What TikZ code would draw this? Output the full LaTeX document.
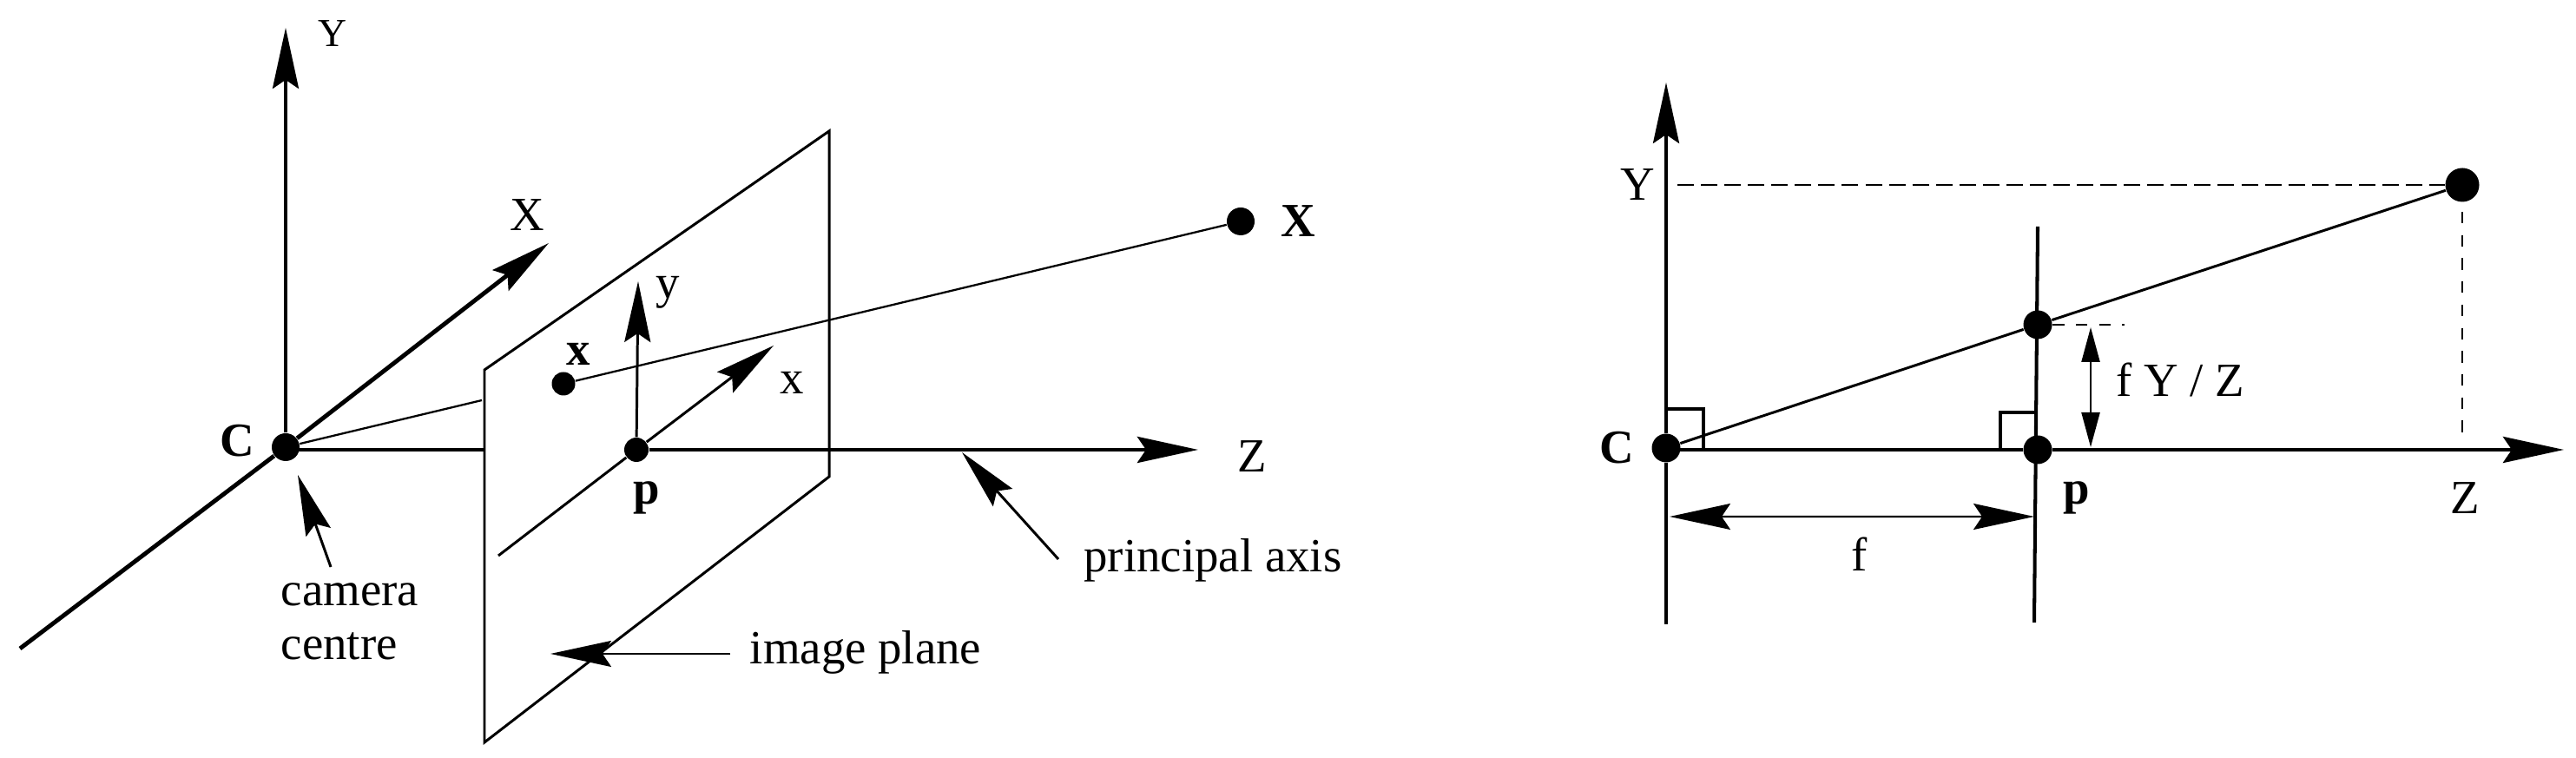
\documentclass[tikz,border=0pt]{standalone}
\usepackage{fontspec}
\setmainfont{Liberation Serif}
\usetikzlibrary{positioning}
\usetikzlibrary{arrows.meta}

\tikzset{
	dot/.style={circle, fill=black, inner sep=0pt, minimum size=3.3mm},
	lbl/.style={inner sep=0pt, font=\fontsize{15.6}{17.6}\selectfont},
	lblsmall/.style={inner sep=0pt, font=\fontsize{13}{15}\selectfont},
	axis/.style={line width=1.4pt},
	upright/.style={line width=1.15pt},
	plane/.style={line width=0.85pt},
	ray/.style={line width=0.65pt},
	head/.style={-{Stealth[length=7mm, width=3mm, inset=1mm]}},
	dimhead/.style={{Stealth[length=4mm, width=2.1mm, inset=0mm]}-{Stealth[length=4mm, width=2.1mm, inset=0mm]}},
	bothhead/.style={{Stealth[length=7mm, width=3mm, inset=1mm]}-{Stealth[length=7mm, width=3mm, inset=1mm]}},
	longdash/.style={line width=0.6pt, dash pattern=on 5.4pt off 2.3pt},
	evendash/.style={line width=0.6pt, dash pattern=on 3.8pt off 3.8pt}
}

\begin{document}
\begin{tikzpicture}[on grid]
	\useasboundingbox (0,0) rectangle (29.67,8.73);

	% Nodes
	% Camera model in 3D
	\node[dot, minimum size=3.2mm] (c-l) at (3.29,3.58) {};
	\node[dot, minimum size=2.8mm, below=0.03 of c-l, xshift=4.04cm] (p-l) {};
	\node[dot, minimum size=2.7mm, above=0.73 of c-l, xshift=3.20cm] (x-l) {};
	\node[dot, minimum size=3.2mm, above=2.60 of c-l, xshift=11cm] (w-l) {};

	% Image plane corners
	\coordinate[above=0.89 of c-l, xshift=2.29cm] (plane-a);
	\coordinate[above=3.64 of c-l, xshift=6.26cm] (plane-b);
	\coordinate[below=0.34 of c-l, xshift=6.26cm] (plane-c);
	\coordinate[below=3.40 of c-l, xshift=2.29cm] (plane-d);

	% Free ends of the axes
	\coordinate[above=4.83 of c-l] (Y-tip);
	\coordinate[above=2.35 of c-l, xshift=3.03cm] (X-tip);
	\coordinate[below=2.32 of c-l, xshift=-3.06cm] (X-end);
	\coordinate[below=0.03 of c-l, xshift=2.29cm] (Z-stop);
	\coordinate[above=0.54 of c-l, xshift=2.26cm] (ray-stop);
	\coordinate[above=1.94 of p-l, xshift=0.02cm] (y-tip);
	\coordinate[above=1.20 of p-l, xshift=1.58cm] (x-tip);
	\coordinate[below=1.22 of p-l, xshift=-1.59cm] (x-end);
	\coordinate[right=6.47 of p-l] (Z-tip);

	% Labels
	\node[lblsmall, above=4.76 of c-l, xshift=0.54cm] (Y-lab) {Y};
	\node[lbl, above=2.67 of c-l, xshift=2.78cm] (X-lab) {X};
	\node[lbl, left=0.56 of c-l, yshift=0.07cm] (c-lab) {\textbf{C}};
	\node[lbl, above=0.34 of x-l, xshift=0.17cm] (x-lab) {\textbf{x}};
	\node[lbl, right=0.66 of w-l] (w-lab) {\textbf{X}};
	\node[lbl, above=1.81 of p-l, xshift=0.36cm] (y-lab) {y};
	\node[lbl, above=0.77 of p-l, xshift=1.79cm] (xx-lab) {x};
	\node[lbl, below=0.55 of p-l, xshift=0.12cm] (p-lab) {\textbf{p}};
	\node[lbl, below=0.08 of p-l, xshift=7.09cm] (Z-lab) {Z};

	% Pointers with their texts
	\node[lbl, below=2.01 of c-l, xshift=0.74cm, align=left] (cam-lab) {camera\\centre};
	\coordinate[below=0.32 of c-l, xshift=0.14cm] (cam-tip);
	\coordinate[below=1.38 of c-l, xshift=0.52cm] (cam-tail);
	\node[lbl, below=1.27 of p-l, xshift=6.64cm] (pa-lab) {principal axis};
	\coordinate[below=0.03 of p-l, xshift=3.75cm] (pa-tip);
	\coordinate[below=1.26 of p-l, xshift=4.86cm] (pa-tail);
	\node[lbl, below=2.33 of p-l, xshift=2.64cm] (ip-lab) {image plane};
	\coordinate[above=1.02 of plane-d, xshift=0.76cm] (ip-tip);
	\coordinate[above=1.02 of plane-d, xshift=2.83cm] (ip-tail);

	% Camera model side view
	\node[dot] (c-r) at (19.19,3.57) {};
	\node[dot, below=0.02 of c-r, xshift=4.28cm] (p-r) {};
	\node[dot, above=1.44 of p-r] (x-r) {};
	\node[dot, minimum size=3.9mm, above=3.03 of c-r, xshift=9.17cm] (w-r) {};

	\coordinate[above=4.21 of c-r] (Y-tip-r);
	\coordinate[below=2.03 of c-r] (Y-end-r);
	\coordinate[below=0.02 of c-r, xshift=10.34cm] (Z-tip-r);
	\coordinate[above=2.57 of p-r] (img-top);
	\coordinate[below=1.99 of p-r, xshift=-0.04cm] (img-end);
	\coordinate[above=3.03 of c-r, xshift=0.13cm] (Y-dash);
	\coordinate[above=2.72 of c-r, xshift=9.17cm] (Z-dash-a);
	\coordinate[above=0.12 of c-r, xshift=9.17cm] (Z-dash-b);
	\coordinate[above=1.44 of p-r, xshift=1.00cm] (x-dash);
	\coordinate[above=1.41 of p-r, xshift=0.61cm] (fy-top);
	\coordinate[above=0.03 of p-r, xshift=0.61cm] (fy-end);
	\coordinate[below=0.79 of c-r, xshift=0.04cm] (f-left);
	\coordinate[below=0.77 of p-r, xshift=-0.04cm] (f-right);

	% Right angle marks
	\coordinate[above=0.45 of c-r] (ra-a);
	\coordinate[above=0.45 of c-r, xshift=0.43cm] (ra-b);
	\coordinate[below=0.02 of c-r, xshift=0.43cm] (ra-c);
	\coordinate[left=0.43 of p-r] (rb-a);
	\coordinate[above=0.43 of p-r, xshift=-0.43cm] (rb-b);
	\coordinate[above=0.43 of p-r] (rb-c);

	\node[lbl, left=0.57 of c-r] (c-lab-r) {\textbf{C}};
	\node[lbl, above=3.03 of c-r, xshift=-0.33cm] (Y-lab-r) {Y};
	\node[lbl, below=0.55 of p-r, xshift=0.45cm] (p-lab-r) {\textbf{p}};
	\node[lbl, below=0.58 of c-r, xshift=9.20cm] (Z-lab-r) {Z};
	\node[lbl, below=1.22 of c-r, xshift=2.23cm] (f-lab) {f};
	\node[lbl, above=0.81 of p-r, xshift=1.64cm] (fy-lab) {f Y / Z};

	% Edges
	% Axes through the camera centre
	\draw[upright, head] (c-l) -- (Y-tip);
	\draw[axis, head] (X-end) -- (c-l) -- (X-tip);
	\draw[axis] (c-l |- Z-stop) -- (Z-stop);
	\draw[axis, head] (p-l) -- (Z-tip);
	% Image plane and the axes on it
	\draw[plane] (plane-a) -- (plane-b) -- (plane-c) -- (plane-d) -- cycle;
	\draw[plane, head] (p-l) -- (y-tip);
	\draw[plane, head] (x-end) -- (p-l) -- (x-tip);
	% Ray to the point
	\draw[ray] (c-l) -- (ray-stop);
	\draw[ray] (x-l) -- (w-l);
	% Pointers
	\draw[plane, head] (cam-tail) -- (cam-tip);
	\draw[plane, head] (pa-tail) -- (pa-tip);
	\draw[ray, head] (ip-tail) -- (ip-tip);

	% Side view
	\draw[upright, head] (Y-end-r) -- (c-r) -- (Y-tip-r);
	\draw[axis] (c-r |- p-r) -- (p-r);
	\draw[axis, head] (p-r) -- (Z-tip-r);
	\draw[upright] (img-top) -- (img-end);
	\draw[plane] (c-r) -- (x-r) -- (w-r);
	\draw[longdash] (Y-dash) -- (w-r);
	\draw[evendash] (Z-dash-a) -- (Z-dash-b);
	\draw[evendash] (x-r) -- (x-dash);
	\draw[ray, dimhead] (fy-top) -- (fy-end);
	\draw[ray, bothhead] (f-left) -- (f-right);
	\draw[upright] (ra-a) -- (ra-b) -- (ra-c);
	\draw[upright] (rb-a) -- (rb-b) -- (rb-c);
\end{tikzpicture}
\end{document}
